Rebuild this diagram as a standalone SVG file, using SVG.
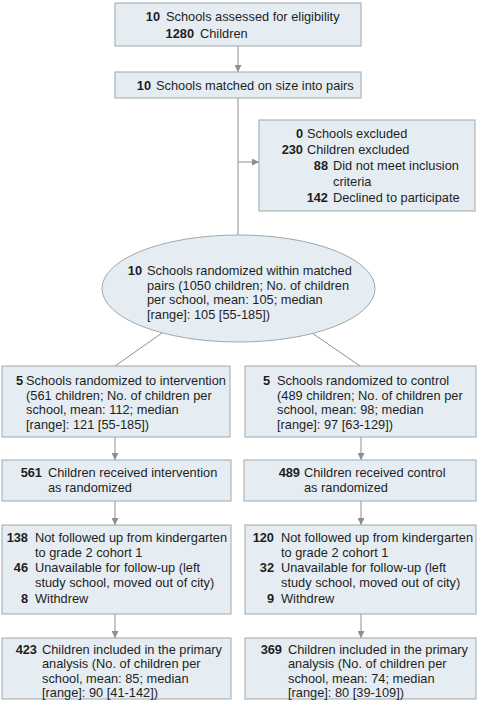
<svg xmlns="http://www.w3.org/2000/svg" width="477" height="709" viewBox="0 0 477 709">
<defs>
<style>
.box{fill:#e5edf2;stroke:#9ea8ae;stroke-width:1}
.c{fill:none;stroke:#8f8f8f;stroke-width:1}
text{font-family:"Liberation Sans",Arial,sans-serif;font-size:12.8px;fill:#1e1e1e}
.n{font-weight:bold;text-anchor:end}
</style>
<marker id="ah" viewBox="0 0 10 10" refX="10" refY="5" markerWidth="7" markerHeight="7" markerUnits="userSpaceOnUse" orient="auto">
<path d="M0,0 L10,5 L0,10 z" fill="#8f8f8f"/>
</marker>
</defs>
<rect width="477" height="709" fill="#ffffff"/>
<g id="connectors">
<line class="c" x1="238" y1="46" x2="238" y2="72" marker-end="url(#ah)"/>
<line class="c" x1="238" y1="98" x2="238" y2="235"/>
<line class="c" x1="238" y1="162" x2="259" y2="162" marker-end="url(#ah)"/>
<line class="c" x1="162" y1="333" x2="115" y2="366"/>
<line class="c" x1="312" y1="333" x2="360" y2="366"/>
<line class="c" x1="115" y1="437" x2="115" y2="460" marker-end="url(#ah)"/>
<line class="c" x1="361" y1="437" x2="361" y2="460" marker-end="url(#ah)"/>
<line class="c" x1="115" y1="501" x2="115" y2="525" marker-end="url(#ah)"/>
<line class="c" x1="361" y1="501" x2="361" y2="525" marker-end="url(#ah)"/>
<line class="c" x1="115" y1="614" x2="115" y2="638" marker-end="url(#ah)"/>
<line class="c" x1="361" y1="614" x2="361" y2="638" marker-end="url(#ah)"/>
</g>
<g id="assessed">
<rect class="box" x="115" y="3" width="246" height="43"/>
<text class="n" x="160" y="21">10</text><text x="166" y="21">Schools assessed for eligibility</text>
<text class="n" x="194" y="38">1280</text><text x="200" y="38">Children</text>
</g>
<g id="matched">
<rect class="box" x="115" y="72" width="246" height="26"/>
<text class="n" x="151" y="90">10</text><text x="156" y="90">Schools matched on size into pairs</text>
</g>
<g id="excluded">
<rect class="box" x="259" y="120" width="216" height="91"/>
<text class="n" x="303" y="137.5">0</text><text x="307" y="137.5">Schools excluded</text>
<text class="n" x="303" y="153.5">230</text><text x="307" y="153.5">Children excluded</text>
<text class="n" x="328" y="169.5">88</text><text x="333" y="169.5">Did not meet inclusion</text>
<text x="333" y="185.5">criteria</text>
<text class="n" x="328" y="201.5">142</text><text x="333" y="201.5">Declined to participate</text>
</g>
<g id="randomized">
<ellipse class="box" cx="238.5" cy="288.5" rx="136.5" ry="53.5"/>
<text class="n" x="142" y="275">10</text><text x="147" y="275">Schools randomized within matched</text>
<text x="147" y="289.5">pairs (1050 children; No. of children</text>
<text x="147" y="304">per school, mean: 105; median</text>
<text x="147" y="318.5">[range]: 105 [55-185])</text>
</g>
<g id="intervention">
<rect class="box" x="2" y="366" width="228" height="71"/>
<text class="n" x="23" y="385">5</text><text x="26" y="385">Schools randomized to intervention</text>
<text x="26" y="399.5">(561 children; No. of children per</text>
<text x="26" y="414">school, mean: 112; median</text>
<text x="26" y="428.5">[range]: 121 [55-185])</text>
</g>
<g id="control">
<rect class="box" x="245" y="366" width="231" height="71"/>
<text class="n" x="270" y="385">5</text><text x="277" y="385">Schools randomized to control</text>
<text x="277" y="399.5">(489 children; No. of children per</text>
<text x="277" y="414">school, mean: 98; median</text>
<text x="277" y="428.5">[range]: 97 [63-129])</text>
</g>
<g id="received-intervention">
<rect class="box" x="2" y="460" width="229" height="41"/>
<text class="n" x="42" y="476.5">561</text><text x="48" y="476.5">Children received intervention</text>
<text x="48" y="491.5">as randomized</text>
</g>
<g id="received-control">
<rect class="box" x="244" y="460" width="232" height="41"/>
<text class="n" x="300" y="476.5">489</text><text x="304" y="476.5">Children received control</text>
<text x="304" y="491.5">as randomized</text>
</g>
<g id="lost-intervention">
<rect class="box" x="2" y="525" width="229" height="89"/>
<text class="n" x="28" y="541.5">138</text><text x="35" y="541.5">Not followed up from kindergarten</text>
<text x="35" y="556.5">to grade 2 cohort 1</text>
<text class="n" x="28" y="572">46</text><text x="35" y="572">Unavailable for follow-up (left</text>
<text x="35" y="587">study school, moved out of city)</text>
<text class="n" x="28" y="603">8</text><text x="35" y="603">Withdrew</text>
</g>
<g id="lost-control">
<rect class="box" x="245" y="525" width="231" height="89"/>
<text class="n" x="274" y="541.5">120</text><text x="281" y="541.5">Not followed up from kindergarten</text>
<text x="281" y="556.5">to grade 2 cohort 1</text>
<text class="n" x="274" y="572">32</text><text x="281" y="572">Unavailable for follow-up (left</text>
<text x="281" y="587">study school, moved out of city)</text>
<text class="n" x="274" y="603">9</text><text x="281" y="603">Withdrew</text>
</g>
<g id="analyzed-intervention">
<rect class="box" x="2" y="638" width="229" height="61"/>
<text class="n" x="37" y="653.5">423</text><text x="42" y="653.5">Children included in the primary</text>
<text x="42" y="668">analysis (No. of children per</text>
<text x="42" y="682.5">school, mean: 85; median</text>
<text x="42" y="697">[range]: 90 [41-142])</text>
</g>
<g id="analyzed-control">
<rect class="box" x="245" y="638" width="231" height="61"/>
<text class="n" x="282" y="653.5">369</text><text x="288" y="653.5">Children included in the primary</text>
<text x="288" y="668">analysis (No. of children per</text>
<text x="288" y="682.5">school, mean: 74; median</text>
<text x="288" y="697">[range]: 80 [39-109])</text>
</g>
</svg>
